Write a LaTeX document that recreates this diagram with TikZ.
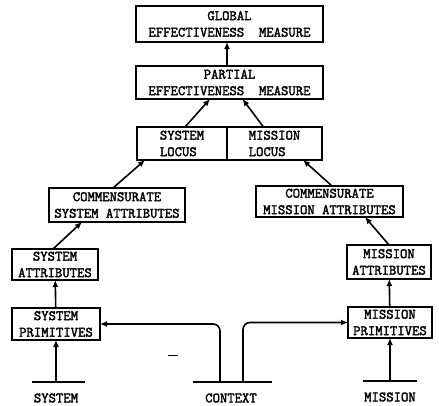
\documentclass[tikz,border=0pt]{standalone}
\usepackage{fontspec}
\setmonofont{Latin Modern Mono}[AutoFakeBold=2.2]
\usetikzlibrary{positioning,arrows.meta}
\tikzset{
  box/.style={draw, line width=1.4pt, align=center, inner sep=0pt, outer sep=0pt,
              font=\fontsize{14.3}{16.5}\selectfont\ttfamily\bfseries},
  lbl/.style={inner sep=0pt, font=\fontsize{14.3}{16.5}\selectfont\ttfamily\bfseries},
  link/.style={line width=1.6pt, ->},
  bar/.style={line width=1.6pt},
  >={Latex[length=7pt,width=6pt]},
}
\begin{document}
\begin{tikzpicture}[x=1pt,y=-1pt]
\useasboundingbox (0,0) rectangle (439,405);
% top of the tree
\node[box, minimum width=187pt, minimum height=36pt] (glob) at (229.5,24) {GLOBAL\\EFFECTIVENESS\ \ MEASURE};
\node[box, minimum width=187pt, minimum height=33pt] (part) at (229.5,82.5) {PARTIAL\\EFFECTIVENESS\ \ MEASURE};
\node[box, align=left, minimum width=90pt, minimum height=33pt] (sysloc) at (182,143.5) {SYSTEM\\LOCUS};
\node[box, align=left, minimum width=95pt, minimum height=33pt, right=0pt of sysloc] (misloc) {MISSION\\LOCUS};
% system side
\node[box, minimum width=136pt, minimum height=34pt] (comsys) at (117,205) {COMMENSURATE\\SYSTEM ATTRIBUTES};
\node[box, minimum width=86pt, minimum height=31pt] (sysatt) at (55,264.5) {SYSTEM\\ATTRIBUTES};
\node[box, minimum width=88pt, minimum height=32pt] (sysprim) at (56,324) {SYSTEM\\PRIMITIVES};
% mission side
\node[box, minimum width=147pt, minimum height=31pt] (commis) at (329.5,201.5) {COMMENSURATE\\MISSION ATTRIBUTES};
\node[box, minimum width=84pt, minimum height=34pt] (misatt) at (389,262) {MISSION\\ATTRIBUTES};
\node[box, minimum width=84pt, minimum height=31pt] (misprim) at (390,322.5) {MISSION\\PRIMITIVES};
% inputs
\node[lbl] (syslbl) at (56,398) {SYSTEM};
\node[lbl] (ctxlbl) at (231,398) {CONTEXT};
\node[lbl] (mislbl) at (390,397) {MISSION};
\coordinate (sysin) at (56,382);
\coordinate (misin) at (390,381);
\coordinate (ctxl) at (220,382);
\coordinate (ctxr) at (243,382);
\coordinate (dashl) at (168,355);
\coordinate (dashr) at (178,355);

\draw[bar] ([xshift=-24pt]sysin) -- ([xshift=29pt]sysin);
\draw[bar] ([xshift=-27pt]misin) -- ([xshift=27pt]misin);
\draw[bar] ([xshift=-27pt]ctxl) -- ([xshift=29pt]ctxr);
\draw[line width=1pt] (dashl) -- (dashr);

\draw[link] (sysin) -- (sysprim.south);
\draw[link] (misin) -- (misprim.south);
\draw[link, rounded corners=7pt] (ctxl) |- (sysprim.east);
\draw[link, rounded corners=7pt] (ctxr) |- (misprim.west);

\draw[link] (sysprim) -- (sysatt);
\draw[link] (misprim) -- (misatt);
\draw[link] ([xshift=-2pt]sysatt.north) -- ([xshift=-35pt]comsys.south);
\draw[link] (misatt.north) -- ([xshift=35.5pt]commis.south);
\draw[link] ([xshift=-4pt]comsys.north) -- ([xshift=-37pt]sysloc.south);
\draw[link] ([xshift=2.5pt]commis.north) -- ([xshift=28.5pt]misloc.south);
\draw[link] ([xshift=3pt]sysloc.north) -- ([xshift=-19.5pt]part.south);
\draw[link] ([xshift=-11pt]misloc.north) -- ([xshift=13pt]part.south);
\draw[link] ([xshift=-2.5pt]part.north) -- ([xshift=-2.5pt]glob.south);
\end{tikzpicture}
\end{document}
